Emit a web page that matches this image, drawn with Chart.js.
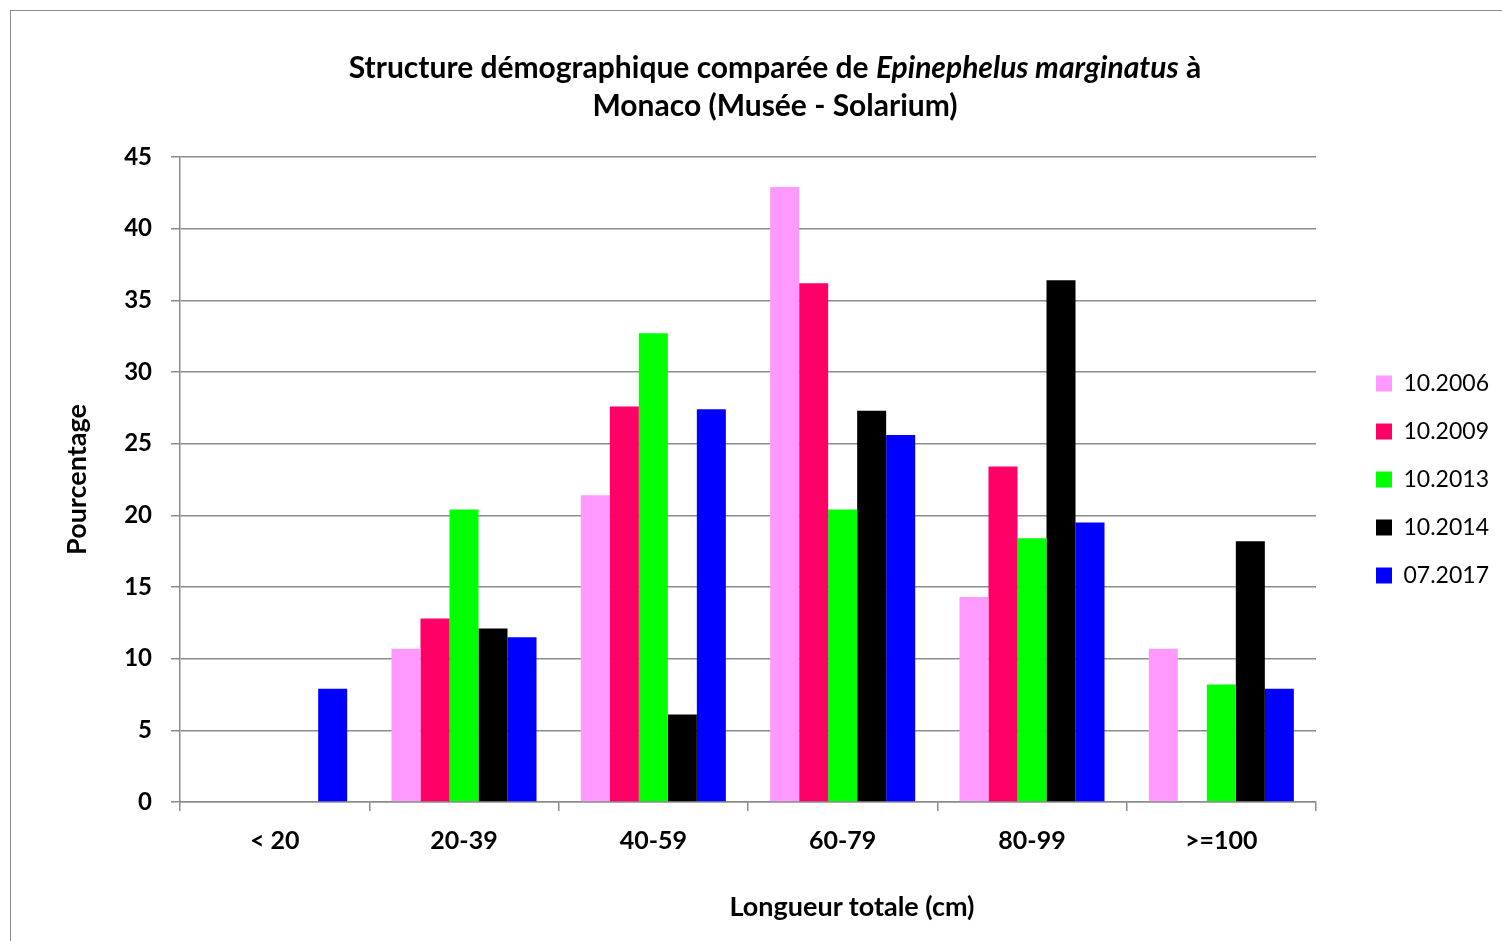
<!DOCTYPE html>
<html lang="fr">
<head>
<meta charset="utf-8">
<title>Structure démographique comparée de Epinephelus marginatus à Monaco</title>
<script src="https://cdn.jsdelivr.net/npm/chart.js@4.4.1/dist/chart.umd.min.js"></script>
<style>
  html, body { margin: 0; padding: 0; background: #fff; overflow: hidden; }
  body { width: 1502px; height: 941px; position: relative; font-family: Lato, sans-serif; }
  #frame { position: absolute; left: 10px; top: 10px; width: 1600px; height: 1000px; border: 1.5px solid #8c8c8c; box-sizing: border-box; }
  #wrap { position: absolute; left: 0; top: 0; width: 1502px; height: 941px; }
  #title { position: absolute; left: 325px; width: 900px; top: 47px; text-align: center; font-weight: bold; font-size: 30px; line-height: 38px; color: #000; }
  #xtitle { position: absolute; left: 652px; width: 400px; top: 891px; text-align: center; font-weight: bold; font-size: 27px; line-height: 30px; color: #000; }
</style>
</head>
<body>
<div id="frame"></div>
<div id="wrap"><canvas id="chart" width="1502" height="941"></canvas></div>
<div id="title">Structure démographique comparée de <i>Epinephelus marginatus</i> à<br>Monaco (Musée - Solarium)</div>
<div id="xtitle">Longueur totale (cm)</div>
<script>
// classes de taille (cm)
const categories = ['< 20', '20-39', '40-59', '60-79', '80-99', '>=100'];

// pourcentage par campagne
const s2006 = [0, 10.7, 21.4, 42.9, 14.3, 10.7];
const s2009 = [0, 12.8, 27.6, 36.2, 23.4, 0];
const s2013 = [0, 20.4, 32.7, 20.4, 18.4, 8.2];
const s2014 = [0, 12.1, 6.1, 27.3, 36.4, 18.2];
const s2017 = [7.9, 11.5, 27.4, 25.6, 19.5, 7.9];

const seriesNames = ['10.2006', '10.2009', '10.2013', '10.2014', '07.2017'];
const seriesColors = ['#FF99FF', '#FF0066', '#00FF00', '#000000', '#0000FF'];
const yTicks = [0, 5, 10, 15, 20, 25, 30, 35, 40, 45];

const gridColor = '#8c8c8c';
const legendFont = 23;
const legendPad = 25;
const legendBox = 16;

Chart.defaults.font.family = 'Lato, sans-serif';
Chart.defaults.color = '#000';

const ctx = document.getElementById('chart').getContext('2d');

// largeur de la légende, pour garder la zone de tracé à droite à 1316px
ctx.font = legendFont + 'px Lato, sans-serif';
const textW = Math.max(...seriesNames.map(n => ctx.measureText(n).width));
const legendW = legendPad + legendBox + legendFont / 2 + textW + 10;
const rightPad = Math.max(0, 1502 - 1316 - 35 - legendW);

new Chart(ctx, {
    type: 'bar',
    data: {
        labels: categories,
        datasets: [s2006, s2009, s2013, s2014, s2017].map((vals, i) => ({
            label: seriesNames[i],
            data: vals,
            backgroundColor: seriesColors[i],
            borderWidth: 0,
            categoryPercentage: 0.766,
            barPercentage: 1
        }))
    },
    options: {
        responsive: false,
        animation: false,
        layout: { padding: { top: 157, left: 57, right: rightPad, bottom: 0 } },
        plugins: {
            title: { display: false },
            tooltip: { enabled: false },
            legend: {
                position: 'right',
                fullSize: false,
                labels: {
                    boxWidth: legendBox,
                    boxHeight: legendBox,
                    padding: legendPad,
                    font: { size: legendFont },
                    color: '#000'
                }
            }
        },
        scales: {
            x: {
                grid: { drawOnChartArea: false, drawTicks: true, tickLength: 9, offset: true, color: gridColor, lineWidth: 1.5 },
                border: { color: gridColor, width: 1.5 },
                ticks: { font: { size: 25, weight: 'bold' }, padding: 15, color: '#000' },
                afterFit: s => { s.height = 139; }
            },
            y: {
                min: 0,
                max: 45,
                afterBuildTicks: s => { s.ticks = yTicks.map(v => ({ value: v })); },
                grid: { color: gridColor, lineWidth: 1.5, tickLength: 9 },
                border: { color: gridColor, width: 1.5 },
                ticks: { font: { size: 24, weight: 'bold' }, padding: 19, color: '#000' },
                title: { display: true, text: 'Pourcentage', font: { size: 27, weight: 'bold' }, color: '#000' },
                afterFit: s => { s.width = 123; }
            },
            // espace vide entre la zone de tracé et la légende
            pad: {
                type: 'linear',
                position: 'right',
                display: true,
                grid: { display: false },
                border: { display: false },
                ticks: { display: false },
                afterFit: s => { s.width = 35; }
            }
        }
    }
});
</script>
</body>
</html>
